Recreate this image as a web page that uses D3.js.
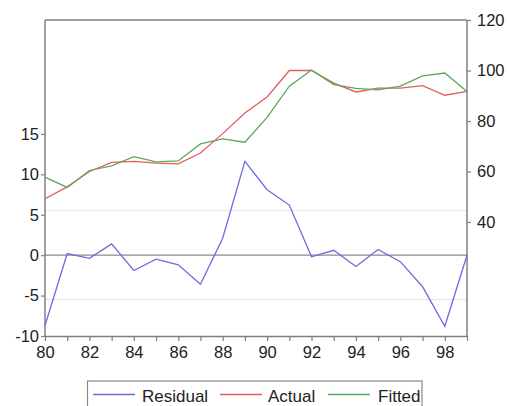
<!DOCTYPE html>
<html><head><meta charset="utf-8">
<script src="https://cdn.jsdelivr.net/npm/d3@7"></script>
<style>body{margin:0;background:#fff}svg{display:block}text{font-family:"Liberation Sans",Arial,sans-serif}</style>
</head><body><svg id="c" width="509" height="406"></svg>
<script>
const years = d3.range(1980, 2000);
const residual = [-8.7,0.2,-0.4,1.4,-1.9,-0.5,-1.2,-3.6,2.1,11.6,8.1,6.2,-0.2,0.6,-1.4,0.7,-0.8,-3.9,-8.8,0.0];
const actual = [49.2,53.9,60.0,63.6,64.0,63.3,63.0,67.3,75.0,83.2,89.5,100.0,100.0,95.0,91.5,93.0,93.0,94.0,90.2,91.7];
const fitted = [57.8,53.7,60.4,62.2,65.9,63.8,64.2,70.9,72.9,71.6,81.4,93.8,100.2,94.4,92.9,92.3,93.8,97.9,99.0,91.7];
const leftTicks = [-10,-5,0,5,10,15];
const rightTicks = [40,60,80,100,120];
const seBand = 5.5;
const seriesNames = ["Residual","Actual","Fitted"];
const colors = ["#6b6be0","#e35d5d","#5aa95a"];

const svg = d3.select("#c");
const L = 45, R = 467, T = 20, B = 336;
const x = d3.scaleLinear().domain([1980,1999]).range([L,R]);
const yL = d3.scaleLinear().domain([-10,29.1]).range([B,T]);
const yR = d3.scaleLinear().domain([-5.15,120]).range([B,T]);
const axisCol = "#808080";

[seBand,-seBand].forEach(v=>{
  svg.append("line").attr("x1",L).attr("x2",R).attr("y1",yL(v)).attr("y2",yL(v))
    .attr("stroke","#e2e2e2").attr("stroke-width",1);
});
svg.append("line").attr("x1",L).attr("x2",R).attr("y1",yL(0)).attr("y2",yL(0))
  .attr("stroke","#8a8a8a").attr("stroke-width",1.2);

svg.append("line").attr("x1",L).attr("x2",R).attr("y1",T).attr("y2",T).attr("stroke",axisCol).attr("stroke-width",1.5);

const fmtYear = d => (d%2===0) ? String(d).slice(2) : "";
const xAxis = d3.axisBottom(x).tickValues(years).tickFormat(fmtYear).tickSize(5).tickSizeOuter(0);
const gx = svg.append("g").attr("transform",`translate(0,${B})`).call(xAxis);
const lAxis = d3.axisLeft(yL).tickValues(leftTicks).tickFormat(d=>String(d)).tickSize(4).tickSizeOuter(0);
const gl = svg.append("g").attr("transform",`translate(${L},0)`).call(lAxis);
const rAxis = d3.axisRight(yR).tickValues(rightTicks).tickFormat(d=>String(d)).tickSize(4).tickSizeOuter(0);
const gr = svg.append("g").attr("transform",`translate(${R},0)`).call(rAxis);
[gx,gl,gr].forEach(g=>{
  g.select(".domain").attr("stroke",axisCol).attr("stroke-width",1.5);
  g.selectAll(".tick line").attr("stroke",axisCol).attr("stroke-width",1.2);
  g.selectAll(".tick text").attr("fill","#222").attr("font-size",16.5).attr("font-family","Liberation Sans, Arial, sans-serif");
});
gl.select(".domain").attr("d",`M0,${T}V${B}`);
gr.select(".domain").attr("d",`M0,${T}V${B}`);
gx.selectAll(".tick text").attr("dy","0.85em");
gl.selectAll(".tick text").attr("x",-6);
gr.selectAll(".tick text").attr("x",10);

const lineL = d3.line().x((d,i)=>x(years[i])).y(d=>yL(d));
const lineR = d3.line().x((d,i)=>x(years[i])).y(d=>yR(d));
svg.append("path").datum(actual).attr("d",lineR).attr("fill","none").attr("stroke",colors[1]).attr("stroke-width",1.3);
svg.append("path").datum(fitted).attr("d",lineR).attr("fill","none").attr("stroke",colors[2]).attr("stroke-width",1.3);
svg.append("path").datum(residual).attr("d",lineL).attr("fill","none").attr("stroke",colors[0]).attr("stroke-width",1.3);

const lg = svg.append("g");
lg.append("rect").attr("x",87.5).attr("y",381).attr("width",334.5).attr("height",35)
  .attr("fill","#fff").attr("stroke","#888").attr("stroke-width",1.2);
const items = [{x:93,tx:142},{x:220,tx:268},{x:328,tx:378}];
items.forEach((it,i)=>{
  lg.append("line").attr("x1",it.x).attr("x2",it.x+42).attr("y1",394.5).attr("y2",394.5)
    .attr("stroke",colors[i]).attr("stroke-width",1.3);
  lg.append("text").attr("x",it.tx).attr("y",401.5).attr("font-size",17).attr("fill","#222").text(seriesNames[i]);
});
</script></body></html>
